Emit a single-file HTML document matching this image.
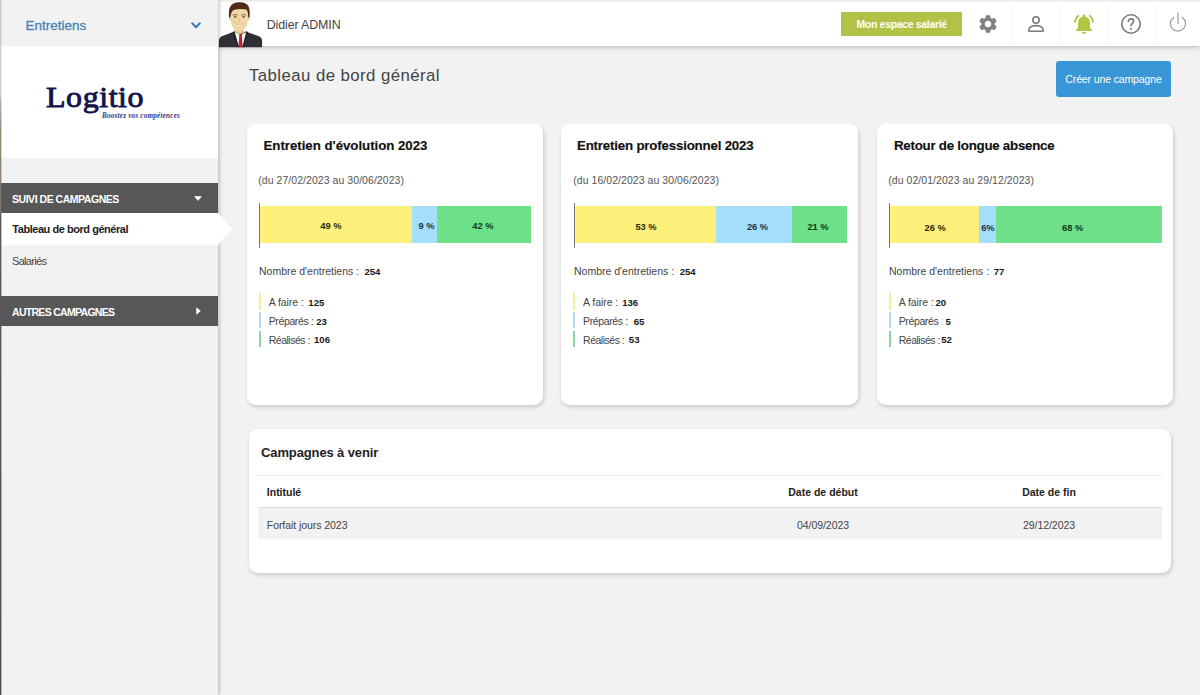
<!DOCTYPE html>
<html lang="fr">
<head>
<meta charset="utf-8">
<title>Tableau de bord général</title>
<style>
*{box-sizing:border-box;margin:0;padding:0}
html,body{width:1200px;height:695px;overflow:hidden}
body{position:relative;background:#f2f2f2;font-family:"Liberation Sans",sans-serif;color:#333;font-size:11px}
.abs{position:absolute}
/* ---------- sidebar ---------- */
#sidebar{position:absolute;left:0;top:0;width:218px;height:695px;background:#f2f2f2;box-shadow:1px 0 4px rgba(0,0,0,.27);z-index:3}
#edge{position:absolute;left:0;top:0;width:1px;height:695px;z-index:6;background:linear-gradient(to bottom,#c6c9b8 0,#c6c9b8 45px,#cfcfcf 46px,#cfcfcf 95px,#b4b7a6 100px,#8f8c7a 130px,#8b846f 183px,#7a7468 184px,#7a7468 213px,#5a5a5a 214px,#4c4c4c 695px)}
#edge:after{content:"";position:absolute;left:1px;top:0;width:1px;height:695px;background:inherit;opacity:.38}
#module{position:absolute;left:0;top:0;width:218px;height:46px;background:#f2f2f2}
#module span{position:absolute;left:25.5px;top:17.6px;font-size:13.4px;line-height:15px;color:#4583b7;letter-spacing:.05px;-webkit-text-stroke:.3px #4583b7}
#module svg{position:absolute;left:190.8px;top:21.5px}
#logo{position:absolute;left:0;top:46px;width:218px;height:112px;background:#fff}
#logo .name{position:absolute;left:46.3px;top:33.4px;font-family:"Liberation Serif",serif;font-weight:normal;font-size:29px;line-height:36px;color:#12144c;letter-spacing:.5px;white-space:nowrap;-webkit-text-stroke:.85px #12144c;transform-origin:0 50%;transform:scaleX(1.104)}
#logo .tag{position:absolute;left:102px;top:66px;font-family:"Liberation Serif",serif;font-style:italic;font-weight:bold;font-size:7.2px;line-height:8px;color:#34397f;white-space:nowrap;letter-spacing:.2px}
.mhead{position:absolute;left:0;width:218px;height:30px;background:#575757;color:#fff;font-weight:bold;font-size:10.5px;line-height:32px;padding-left:12px;letter-spacing:-.47px}
.mhead svg{position:absolute}
#active{position:absolute;left:0;top:213px;width:218px;height:32px;background:#fff;font-weight:bold;font-size:11px;line-height:33px;padding-left:12.3px;color:#222;letter-spacing:-.46px}
#arrow{position:absolute;left:218px;top:213px;z-index:4}
#sal{position:absolute;left:12px;top:253.6px;font-size:11px;line-height:14px;color:#444;letter-spacing:-.68px}
/* ---------- header ---------- */
#header{position:absolute;left:218px;top:0;width:982px;height:46px;background:#fff;box-shadow:0 1px 5px rgba(0,0,0,.26);z-index:2}
#uname{position:absolute;left:48.7px;top:17.3px;font-size:12.4px;line-height:16px;color:#444;letter-spacing:-.1px}
#avatar{position:absolute;left:0;top:1px}
#espace{position:absolute;left:623px;top:11.6px;width:121.3px;height:24.2px;background:#b1c247;color:#fff;font-weight:bold;font-size:10.5px;line-height:24.6px;text-align:center;letter-spacing:-.33px}
.ico{position:absolute}
.sep{position:absolute;top:0;width:1px;height:46px;background:#f8f8f8}
/* ---------- main ---------- */
#ptitle{position:absolute;left:249px;top:64.6px;font-size:16.8px;line-height:22px;color:#444;letter-spacing:.43px}
#create{position:absolute;left:1056px;top:61px;width:115px;height:36px;border-radius:3px;background:#3a97d7;color:#fff;font-size:10.5px;line-height:37px;text-align:center;letter-spacing:-.13px}
.card{position:absolute;background:#fff;border-radius:9px;box-shadow:0 -1px 0 rgba(255,255,255,.6),1px 2px 4px rgba(0,0,0,.18)}
.card h3{position:absolute;font-size:13.3px;line-height:16px;font-weight:bold;color:#111;white-space:nowrap;-webkit-text-stroke:.15px #111}
.card .dt{position:absolute;font-size:10.5px;line-height:13px;color:#555;white-space:nowrap;letter-spacing:.05px}
.axis{position:absolute;top:78.7px;width:1px;height:45px;background:#77746c}
.seg{position:absolute;top:82.3px;height:37.1px}
.pl{position:absolute;top:96.3px;transform:translateX(-50%);font-size:9.3px;font-weight:bold;line-height:12px;white-space:nowrap}
.y{background:#fff07c}.b{background:#a3defb}.g{background:#6fe08a}
.nb{position:absolute;top:140.8px;font-size:10.5px;line-height:13px;color:#444;white-space:nowrap}
.v{position:absolute;font-size:9.6px;line-height:13px;font-weight:bold;color:#1a1a1a;white-space:nowrap}
.lg{position:absolute;border-left:2px solid;padding-left:7.9px;font-size:10.5px;line-height:18.6px;color:#444;white-space:nowrap;letter-spacing:-.06px}
.th{position:absolute;font-size:10.5px;line-height:13px;font-weight:bold;color:#222;white-space:nowrap}
.td{position:absolute;font-size:10.5px;line-height:13px;color:#444;white-space:nowrap;letter-spacing:-.06px}
</style>
</head>
<body>
<div id="edge"></div>
<div id="sidebar">
  <div id="module"><span>Entretiens</span>
    <svg width="10" height="7" viewBox="0 0 10 7"><path d="M1.400 1.500 L5 5.200 L8.600 1.500" fill="none" stroke="#3f80b8" stroke-width="2.300" stroke-linecap="round" stroke-linejoin="round"/></svg>
  </div>
  <div id="logo"><div class="name">Logitio</div><div class="tag">Boostez vos compétences</div></div>
  <div class="mhead" style="top:183px">SUIVI DE CAMPAGNES
    <svg style="left:193.5px;top:13px" width="8" height="5" viewBox="0 0 8 5"><path d="M0.8 0.6 H7.2 L4 4.4 Z" fill="#fff" stroke="#fff" stroke-width=".8" stroke-linejoin="round"/></svg>
  </div>
  <div id="active">Tableau de bord général</div>
  <div id="sal">Salariés</div>
  <div class="mhead" style="top:296px;letter-spacing:-.7px">AUTRES CAMPAGNES
    <svg style="left:196px;top:11.3px" width="5" height="8" viewBox="0 0 5 8"><path d="M0.7 0.9 V7.100 L4.300 4 Z" fill="#fff" stroke="#fff" stroke-width=".8" stroke-linejoin="round"/></svg>
  </div>
</div>
<svg id="arrow" width="16" height="32" viewBox="0 0 16 32"><path d="M0 0 L14 16 L0 32 Z" fill="#fff"/></svg>

<div id="header">
  <div class="abs" style="left:0;top:0;width:982px;height:2px;background:linear-gradient(to bottom,#e9e9e9 0,#ededed 50%,#fafafa 100%)"></div>
  <svg id="avatar" width="46" height="47" viewBox="0 0 46 47" style="overflow:visible">
    <!-- suit -->
    <path d="M0.9 46.2 V40 Q0.9 36.4 4.6 35 L16.300 30.500 L22 33 L27.700 30.500 L40.300 35 Q44.100 36.400 44.100 40 V46.200 Z" fill="#2f2f35"/>
    <!-- shirt -->
    <path d="M15.900 30.700 L21.300 46.200 L24.100 46.200 L29.100 30.700 L22.400 33.600 Z" fill="#f6f4f2"/>
    <path d="M14.600 31.300 L16.400 30.100 L20.900 46.200 L19.600 46.200 Z" fill="#232328"/>
    <path d="M30.200 31.300 L28.400 30.100 L24.500 46.200 L25.800 46.200 Z" fill="#232328"/>
    <!-- tie -->
    <path d="M20.800 32.400 H24.300 L23.800 35.200 L24.700 46.200 H20.500 L21.300 35.200 Z" fill="#b3262b"/>
    <g transform="translate(-1.2,0)">
    <!-- neck -->
    <path d="M18 26 H27 V31 L22.5 33.6 L18 31 Z" fill="#e2c490"/>
    <!-- ears -->
    <ellipse cx="13.6" cy="17" rx="1.4" ry="2.4" fill="#e3c38f"/>
    <ellipse cx="31.4" cy="17" rx="1.4" ry="2.4" fill="#e3c38f"/>
    <!-- face -->
    <path d="M14 10 Q14 6 22.5 6 Q31 6 31 10 V19 Q31 25.5 26.5 29.2 Q22.5 32 18.5 29.2 Q14 25.5 14 19 Z" fill="#efd7a6"/>
    <!-- hair -->
    <path d="M12.4 17 Q11.2 8 14.2 4.4 Q17.5 0.8 23 1.2 Q29.5 1.2 31.6 5 Q33.6 9 32.6 17 L31.2 15.5 Q31.4 10.5 29.6 8.6 Q24 7.4 17.6 8.8 Q14.2 10 13.8 15.5 Z" fill="#522818"/>
    <!-- brows/eyes -->
    <path d="M16 14.1 Q18.3 13 20.6 14.1" stroke="#6b4a2a" stroke-width=".8" fill="none"/>
    <path d="M24.6 14.1 Q26.9 13 29.2 14.1" stroke="#6b4a2a" stroke-width=".8" fill="none"/>
    <ellipse cx="18.4" cy="15.9" rx="1.5" ry=".8" fill="#7a5a30"/>
    <ellipse cx="26.8" cy="15.9" rx="1.5" ry=".8" fill="#7a5a30"/>
    <!-- nose + smile -->
    <path d="M22.4 17 L21.8 21 H23.2" stroke="#dcbc88" stroke-width=".6" fill="none"/>
    <path d="M19.2 23 Q22.5 26.6 25.8 23 Q22.5 24.2 19.2 23 Z" fill="#fff6cf"/>
    <path d="M18.6 22.6 Q22.5 24.4 26.4 22.6" stroke="#caa070" stroke-width=".5" fill="none"/>
    </g>
  </svg>
  <div id="uname">Didier ADMIN</div>
  <div id="espace">Mon espace salarié</div>
  <div class="sep" style="left:794px"></div>
  <div class="sep" style="left:842px"></div>
  <div class="sep" style="left:890px"></div>
  <div class="sep" style="left:938px"></div>
  <!-- gear (centre 988,24) -->
  <svg class="ico" style="left:759px;top:13px" width="22" height="22" viewBox="0 0 24 24"><path fill="#808080" d="M19.14 12.94c.04-.3.06-.61.06-.94 0-.32-.02-.64-.07-.94l2.03-1.58a.49.49 0 0 0 .12-.61l-1.92-3.32a.488.488 0 0 0-.59-.22l-2.39.96c-.5-.38-1.030-.7-1.620-.94l-.36-2.540a.484.484 0 0 0-.48-.41h-3.840c-.24 0-.43.170-.47.410l-.36 2.540c-.59.240-1.130.570-1.620.940l-2.390-.96c-.22-.080-.47 0-.59.220L2.740 8.870c-.12.210-.08.470.12.610l2.030 1.580c-.05.300-.09.630-.09.940s.02.640.07.940l-2.030 1.580a.49.49 0 0 0-.12.610l1.920 3.320c.12.220.37.290.59.220l2.390-.96c.5.380 1.030.7 1.620.94l.36 2.540c.05.240.24.410.48.410h3.840c.24 0 .44-.17.470-.41l.36-2.540c.59-.24 1.130-.56 1.620-.94l2.390.96c.22.080.47 0 .59-.22l1.920-3.320c.12-.22.070-.47-.12-.61l-2.010-1.580zM12 15.600c-1.980 0-3.600-1.620-3.600-3.600s1.620-3.600 3.600-3.600 3.600 1.620 3.600 3.600-1.620 3.600-3.600 3.600z"/></svg>
  <!-- person outline (centre 1036,24) -->
  <svg class="ico" style="left:806px;top:12px" width="24" height="24" viewBox="0 0 24 24"><circle cx="12" cy="8" r="3.2" fill="none" stroke="#7b7b7b" stroke-width="1.6"/><path d="M4.9 19.2 V17.4 C4.9 15 9.2 13.6 12 13.6 C14.8 13.6 19.1 15 19.1 17.4 V19.2 Z" fill="none" stroke="#7b7b7b" stroke-width="1.6" stroke-linejoin="round"/></svg>
  <!-- bell (centre 1084,23.5) -->
  <svg class="ico" style="left:854px;top:12px" width="24" height="24" viewBox="0 0 24 24"><path fill="#b4c546" d="M7.58 4.080 6.150 2.650C3.750 4.480 2.170 7.300 2.030 10.500h2a8.445 8.445 0 0 1 3.550-6.420zm12.390 6.420h2c-.15-3.200-1.730-6.020-4.120-7.850l-1.420 1.430a8.495 8.495 0 0 1 3.540 6.420zM18 11c0-3.070-1.640-5.640-4.500-6.320V4c0-.83-.67-1.500-1.500-1.500s-1.500.67-1.500 1.500v.68C7.630 5.360 6 7.920 6 11v5l-2 2v1h16v-1l-2-2v-5zm-6 11c.14 0 .27-.1.400-.04.650-.14 1.180-.58 1.440-1.180.1-.24.150-.5.150-.78h-4c.01 1.100.9 2 2.010 2z"/></svg>
  <!-- help (centre 1131,24) -->
  <svg class="ico" style="left:901px;top:12px" width="24" height="24" viewBox="0 0 24 24"><circle cx="12" cy="12" r="9.2" fill="none" stroke="#7a7a7a" stroke-width="1.6"/><path d="M9.3 9.6 C9.3 7.9 10.5 6.9 12 6.9 C13.6 6.900 14.700 7.900 14.700 9.300 C14.700 11.300 12 11.500 12 13.800" fill="none" stroke="#7a7a7a" stroke-width="1.600" stroke-linecap="round"/><circle cx="12" cy="16.700" r="1.050" fill="#7a7a7a"/></svg>
  <!-- power (centre 1178,23) -->
  <svg class="ico" style="left:948px;top:11px" width="24" height="24" viewBox="0 0 24 24"><path d="M7.6 6.400 A7.600 7.600 0 1 0 16.400 6.400" fill="none" stroke="#9a9a9a" stroke-width="1.200" stroke-linecap="round"/><path d="M12 2.200 V12.600" stroke="#9a9a9a" stroke-width="1.200" stroke-linecap="round"/></svg>
</div>

<div id="ptitle">Tableau de bord général</div>
<div id="create">Créer une campagne</div>

<!-- cards -->
<div class="card" style="left:247px;top:124px;width:296px;height:281px">
  <h3 style="left:16.5px;top:14.2px;letter-spacing:-.04px">Entretien d'évolution 2023</h3>
  <div class="dt" style="left:11.3px;top:50px">(du 27/02/2023 au 30/06/2023)</div>
  <div class="axis" style="left:12px"></div>
  <div class="seg y" style="left:13px;width:152.3px"></div>
  <div class="seg b" style="left:165.3px;width:25px"></div>
  <div class="seg g" style="left:190.3px;width:93.7px"></div>
  <div class="pl" style="top:95.9px;left:83.9px;color:#2c2a05">49 %</div>
  <div class="pl" style="top:95.9px;left:179.6px;color:#1c3445">9 %</div>
  <div class="pl" style="top:95.9px;left:235.9px;color:#0c3a18">42 %</div>
  <div class="nb" style="left:12px">Nombre d'entretiens :</div><div class="v" style="left:117.4px;top:140.9px">254</div>
  <div class="lg" style="left:11.8px;top:169.3px;height:17.2px;border-color:#f4ee9c">A faire :</div><div class="v" style="left:61.3px;top:171.9px">125</div>
  <div class="lg" style="left:11.8px;top:188px;height:16.4px;border-color:#b7daec;letter-spacing:-.37px">Préparés :</div><div class="v" style="left:69.2px;top:190.6px">23</div>
  <div class="lg" style="left:11.8px;top:206.8px;height:16.6px;border-color:#8ed4a0;letter-spacing:-.49px">Réalisés :</div><div class="v" style="left:67px;top:209.4px">106</div>
</div>
<div class="card" style="left:561px;top:124px;width:297px;height:281px">
  <h3 style="left:16px;top:14.2px;letter-spacing:-.19px">Entretien professionnel 2023</h3>
  <div class="dt" style="left:12.3px;top:50px">(du 16/02/2023 au 30/06/2023)</div>
  <div class="axis" style="left:12.6px"></div>
  <div class="seg y" style="left:13.6px;width:141.6px"></div>
  <div class="seg b" style="left:155.2px;width:75.8px"></div>
  <div class="seg g" style="left:231px;width:55px"></div>
  <div class="pl" style="top:97.1px;left:85px;color:#2c2a05">53 %</div>
  <div class="pl" style="top:97.1px;left:196.5px;color:#1c3445">26 %</div>
  <div class="pl" style="top:97.1px;left:257px;color:#0c3a18">21 %</div>
  <div class="nb" style="left:13px">Nombre d'entretiens :</div><div class="v" style="left:118.7px;top:140.9px">254</div>
  <div class="lg" style="left:12.2px;top:169.3px;height:17.2px;border-color:#f4ee9c">A faire :</div><div class="v" style="left:61.2px;top:171.9px">136</div>
  <div class="lg" style="left:12.2px;top:188px;height:16.4px;border-color:#b7daec;letter-spacing:-.37px">Préparés :</div><div class="v" style="left:72.7px;top:190.6px">65</div>
  <div class="lg" style="left:12.2px;top:206.8px;height:16.6px;border-color:#8ed4a0;letter-spacing:-.49px">Réalisés :</div><div class="v" style="left:67.8px;top:209.4px">53</div>
</div>
<div class="card" style="left:877px;top:124px;width:296px;height:281px">
  <h3 style="left:17px;top:14.2px;letter-spacing:-.245px">Retour de longue absence</h3>
  <div class="dt" style="left:11.3px;top:50px">(du 02/01/2023 au 29/12/2023)</div>
  <div class="axis" style="left:11.8px"></div>
  <div class="seg y" style="left:12.8px;width:89.4px"></div>
  <div class="seg b" style="left:102.2px;width:16.8px"></div>
  <div class="seg g" style="left:119px;width:165.7px"></div>
  <div class="pl" style="top:98.1px;left:58.1px;color:#2c2a05">26 %</div>
  <div class="pl" style="top:98.1px;left:110.9px;color:#1c3445">6%</div>
  <div class="pl" style="top:98.1px;left:195.6px;color:#0c3a18">68 %</div>
  <div class="nb" style="left:12px">Nombre d'entretiens :</div><div class="v" style="left:116.7px;top:140.9px">77</div>
  <div class="lg" style="left:11.8px;top:169.3px;height:17.2px;border-color:#f4ee9c">A faire :</div><div class="v" style="left:58.4px;top:171.9px">20</div>
  <div class="lg" style="left:11.8px;top:188px;height:16.4px;border-color:#b7daec;letter-spacing:-.37px">Préparés<span style="color:#c8c8c8;margin-left:2.2px">:</span></div><div class="v" style="left:68.5px;top:190.6px">5</div>
  <div class="lg" style="left:11.8px;top:206.8px;height:16.6px;border-color:#8ed4a0;letter-spacing:-.49px">Réalisés :</div><div class="v" style="left:64.2px;top:209.4px">52</div>
</div>
<!-- bottom table -->
<div class="card" id="tbl" style="left:248.5px;top:429.4px;width:922.5px;height:143.4px;box-shadow:1px 2px 4px rgba(0,0,0,.18)">
  <h3 style="left:12.5px;top:15.9px;font-size:13px;color:#222;letter-spacing:-.12px;-webkit-text-stroke:0">Campagnes à venir</h3>
  <div class="abs" style="left:9.5px;top:45.5px;width:904px;height:1px;background:#ededed"></div>
  <div class="th" style="left:18.3px;top:56.3px">Intitulé</div>
  <div class="th" style="left:474.5px;top:56.3px;width:200px;text-align:center">Date de début</div>
  <div class="th" style="left:700.5px;top:56.3px;width:200px;text-align:center">Date de fin</div>
  <div class="abs" style="left:9.5px;top:77.5px;width:904px;height:1px;background:#dcdcdc"></div>
  <div class="abs" style="left:9.5px;top:78.5px;width:904px;height:31.5px;background:#f2f2f2"></div>
  <div class="td" style="left:18.3px;top:89.3px">Forfait jours 2023</div>
  <div class="td" style="left:474.5px;top:89.3px;width:200px;text-align:center">04/09/2023</div>
  <div class="td" style="left:700.5px;top:89.3px;width:200px;text-align:center">29/12/2023</div>
</div>
</body>
</html>
